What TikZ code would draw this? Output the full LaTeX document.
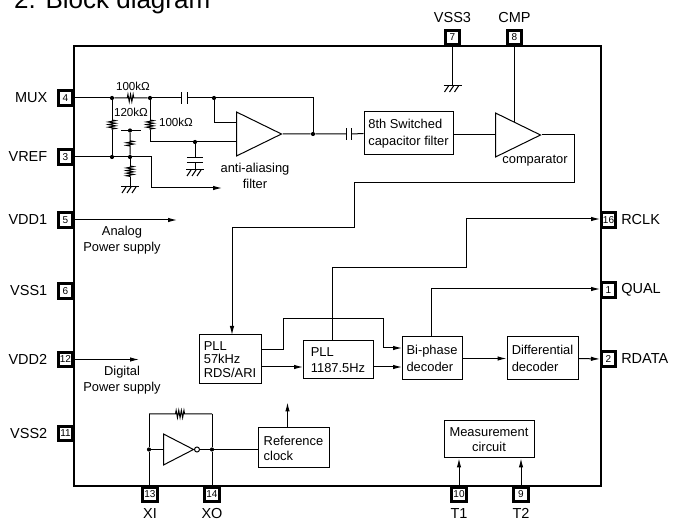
\documentclass[tikz,border=0pt]{standalone}
\usepackage{fontspec}
\setmainfont{Liberation Sans}
\usepackage{tikz}
\usetikzlibrary{arrows.meta}
\usetikzlibrary{positioning, shapes.geometric, decorations.pathmorphing}
\tikzset{
    wire/.style={line width=1pt},
    arr/.style={wire, -{Latex[length=9pt,width=4.5pt]}},
    txt/.style={inner sep=0pt, font=\fontsize{12.9}{16.5}\selectfont, align=center},
    smalltxt/.style={inner sep=0pt, font=\fontsize{11.6}{13}\selectfont},
    block/.style={draw, line width=1pt, inner sep=0pt, align=left, font=\fontsize{12.9}{#1}\selectfont},
    block/.default=16.5,
    pinbox/.style={draw, fill=white, line width=2.6pt, minimum size=14.5pt, inner sep=0pt, font=\fontsize{10}{11}\selectfont},
    pinname/.style={inner sep=0pt, font=\fontsize{14.5}{15}\selectfont},
    dot/.style={circle, fill, inner sep=0pt, minimum size=4.2pt},
    amp/.style={draw, line width=1pt, isosceles triangle, isosceles triangle stretches, shape border rotate=0, inner sep=0pt, minimum width=44pt, minimum height=45pt},
    capbox/.style={inner sep=0pt, minimum width=5pt, minimum height=11pt},
    vcapbox/.style={inner sep=0pt, minimum width=16pt, minimum height=4pt},
    res/.style={wire, decorate, decoration={zigzag, segment length=2.6pt, amplitude=3.6pt, pre=lineto, post=lineto, pre length=#1, post length=#1}},
    gnd/.pic={
        \draw[wire] (-9,0) -- (9,0);
        \draw[wire] (-4,0) -- (-8,6) (1,0) -- (-3,6) (6,0) -- (2,6);
    }
}

\begin{document}
\begin{tikzpicture}[x=1pt, y=-1pt]
            \useasboundingbox (0,0) rectangle (673,521);
            \node[anchor=base west, inner sep=0pt, font=\fontsize{26}{28}\selectfont] (title) at (14,9) {2. Block diagram};
            \node[draw, line width=2.5pt, minimum width=527pt, minimum height=440pt, inner sep=0pt] (chip) at (337.5,266) {};

            % pins
            \node[pinbox] (mux) at (65.5,98) {4};
            \node[pinbox] (vref) at (65.5,157) {3};
            \node[pinbox] (vdda) at (65.5,220) {5};
            \node[pinbox] (vssa) at (65.5,291) {6};
            \node[pinbox] (vddb) at (65.5,359.5) {12};
            \node[pinbox] (vssb) at (65.5,433.5) {11};
            \node[pinbox] (vssc) at (452.5,37.5) {7};
            \node[pinbox] (cmp) at (514.5,37.5) {8};
            \node[pinbox] (rclk) at (608.5,220) {16};
            \node[pinbox] (qual) at (608.5,290) {1};
            \node[pinbox] (rdata) at (608.5,359) {2};
            \node[pinbox] (xi) at (150,494.5) {13};
            \node[pinbox] (xo) at (212,494.5) {14};
            \node[pinbox] (tone) at (459,494.5) {10};
            \node[pinbox] (ttwo) at (521,494.5) {9};
            \node[pinname, left=9.5pt of mux] (muxname) {MUX};
            \node[pinname, left=9.5pt of vref] (vrefname) {VREF};
            \node[pinname, left=9.5pt of vdda] (vddaname) {VDD1};
            \node[pinname, left=9.5pt of vssa] (vssaname) {VSS1};
            \node[pinname, left=9.5pt of vddb] (vddbname) {VDD2};
            \node[pinname, left=9.5pt of vssb] (vssbname) {VSS2};
            \node[pinname, above=6pt of vssc] (vsscname) {VSS3};
            \node[pinname, above=6pt of cmp] (cmpname) {CMP};
            \node[pinname, right=4pt of rclk] (rclkname) {RCLK};
            \node[pinname, right=4pt of qual] (qualname) {QUAL};
            \node[pinname, right=4pt of rdata] (rdataname) {RDATA};
            \node[pinname, below=5pt of xi] (xiname) {XI};
            \node[pinname, below=5pt of xo] (xoname) {XO};
            \node[pinname, below=5pt of tone] (tonename) {T1};
            \node[pinname, below=5pt of ttwo] (ttwoname) {T2};

            % blocks
            \node[block, minimum width=89pt, minimum height=43pt] (scf) at (408.5,133.5) {8th Switched\\capacitor filter};
            \node[block=13.5, minimum width=62pt, minimum height=49pt] (pllrds) at (230,359.5) {PLL\\57kHz\\RDS/ARI};
            \node[block, minimum width=70pt, minimum height=38pt] (pllclk) at (338,360) {PLL\\1187.5Hz};
            \node[block, minimum width=60pt, minimum height=43pt] (biphase) at (432,358.5) {Bi-phase\\decoder};
            \node[block, minimum width=71pt, minimum height=43pt] (diff) at (542.5,358.5) {Differential\\decoder};
            \node[block=15, minimum width=71pt, minimum height=40pt] (refclk) at (293.5,448) {Reference\\clock};
            \node[block=15, align=center, minimum width=90pt, minimum height=37pt] (meas) at (489,439.5) {Measurement\\circuit};
            \node[amp, anchor=lower side] (opamp) at (236,134) {};
            \node[amp, anchor=lower side] (comp) at (495,135) {};
            \node[amp, anchor=lower side, minimum width=31pt, minimum height=30pt] (inv) at (163,449.5) {};

            % anti-aliasing filter
            \node[dot] (ja) at (112,98) {};
            \node[dot] (jb) at (150,98) {};
            \node[capbox] (capa) at (184.5,98) {};
            \node[dot] (jc) at (214,98) {};
            \node[dot] (jout) at (313,134) {};
            \node[capbox] (capb) at (349,134) {};
            \node[dot] (jd) at (112,157) {};
            \node[dot] (je) at (130,157) {};
            \node[dot] (jf) at (130,130.5) {};
            \node[dot] (jg) at (195,142) {};
            \node[vcapbox] (capc) at (195,160) {};
            \coordinate (bara) at (121,130.5);
            \coordinate (barb) at (141,130.5);
            \coordinate (minus) at (236,123);
            \coordinate (plus) at (236,142);
            \coordinate (rb) at (150,142);
            \coordinate (rbt) at (150,120);
            \coordinate (rbb) at (150,130);
            \coordinate (rat) at (112,120);
            \coordinate (rab) at (112,130);
            \coordinate (ret) at (130,166);
            \coordinate (reb) at (130,177);
            \coordinate (bend) at (151,188);
            \coordinate (vrefout) at (222,188);
            \coordinate (gnda) at (130,187);
            \coordinate (gndb) at (195,170);
            \coordinate (gndc) at (452.5,86);
            \pic at (gnda) {gnd};
            \pic at (gndb) {gnd};
            \pic at (gndc) {gnd};
            \draw[wire] (mux.east) -- (ja);
            \draw[res=13pt] (ja) -- (jb);
            \draw[wire] (jb) -- (capa.west) (capa.east) -- (jc) -| (jout);
            \draw[wire] (capa.north west) -- (capa.south west) (capa.north east) -- (capa.south east);
            \draw[wire] (jc) |- (minus);
            \draw[wire] (ja) -- (rat) (rab) -- (jd);
            \draw[res=0pt] (rat) -- (rab);
            \draw[wire] (jb) -- (rbt) (rbb) -- (rb) -- (plus);
            \draw[res=0pt] (rbt) -- (rbb);
            \draw[wire] (vref.east) -- (jd) -- (je) -| (bend);
            \draw[arr] (bend) -- (vrefout);
            \draw[wire] (bara) -- (barb);
            \draw[res=8pt] (jf) -- (je);
            \draw[wire] (je) -- (ret) (reb) -- (gnda);
            \draw[res=0pt] (ret) -- (reb);
            \draw[wire] (jg) -- (capc.north) (capc.south) -- (gndb);
            \draw[wire] (capc.north west) -- (capc.north east) (capc.south west) -- (capc.south east);
            \draw[wire] (jout -| opamp.apex) -- (jout) -- (capb.west) (capb.east) -- (scf.west);
            \draw[wire] (capb.north west) -- (capb.south west) (capb.north east) -- (capb.south east);
            \node[txt] (aaf) at (255,176) {anti-aliasing\\filter};
            \node[smalltxt] (ra) at (133,86) {100kΩ};
            \node[smalltxt] (rc) at (131,112) {120kΩ};
            \node[smalltxt] (rd) at (176,122) {100kΩ};

            % signal path
            \coordinate (compa) at (574,135);
            \coordinate (compb) at (574,183);
            \coordinate (compc) at (354,183);
            \coordinate (compd) at (354,228);
            \coordinate (compe) at (232,228);
            \coordinate (cmpin) at (514.5,122);
            \coordinate (vsscend) at (452.5,86);
            \node[txt] (cmptxt) at (535,161) {comparator};
            \draw[wire] (scf.east |- compa) -- (comp.lower side);
            \draw[wire] (cmp.south) -- (cmpin);
            \draw[wire] (vssc.south) -- (vsscend);
            \draw[arr] (compa -| comp.apex) -- (compa) -- (compb) -- (compc) -- (compd) -- (compe) -- (232,335);
            \coordinate (rdsout) at (261,350);
            \coordinate (rdsup) at (283,319);
            \coordinate (bphi) at (402,348);
            \coordinate (clkup) at (332,341);
            \coordinate (clkturn) at (466,268);
            \coordinate (clkend) at (600,219);
            \coordinate (qualup) at (431,337);
            \coordinate (qualend) at (600,289);
            \draw[wire] (rdsout) -| (rdsup);
            \draw[arr] (rdsup) -- (383,319) |- (bphi);
            \draw[arr] (261,367) -- (303,367);
            \draw[arr] (373,367) -- (402,367);
            \draw[wire] (clkup) |- (clkturn);
            \draw[arr] (clkturn) |- (clkend);
            \draw[arr] (qualup) |- (qualend);
            \draw[arr] (biphase.east) -- (diff.west);
            \draw[arr] (diff.east) -- (rdata.west);

            % power
            \draw[arr] (vdda.east) -- (177,220);
            \draw[arr] (vddb.east) -- (139,359.5);
            \node[txt] (analog) at (122,240) {Analog\\Power supply};
            \node[txt] (digital) at (122,380) {Digital\\Power supply};

            % oscillator
            \node[dot] (jxi) at (149,449.5) {};
            \node[dot] (jxo) at (212,449.5) {};
            \node[circle, draw, line width=1pt, inner sep=0pt, minimum size=5pt] (bubble) at (197,449.5) {};
            \coordinate (fbl) at (149,414);
            \coordinate (fbr) at (212,414);
            \draw[wire] (xi.north -| jxi) -- (jxi) -- (fbl);
            \draw[wire] (xo.north) -- (jxo) -- (fbr);
            \draw[res=26.5pt] (fbl) -- (fbr);
            \draw[wire] (jxi) -- (inv.lower side);
            \draw[wire] (bubble) -- (jxo) -- (jxo -| refclk.west);
            \draw[arr] (refclk.north) ++(-6,0) -- +(0,-25);
            \draw[arr] (tone.north) -- (meas.south -| tone);
            \draw[arr] (ttwo.north) -- (meas.south -| ttwo);
\end{tikzpicture}
\end{document}
